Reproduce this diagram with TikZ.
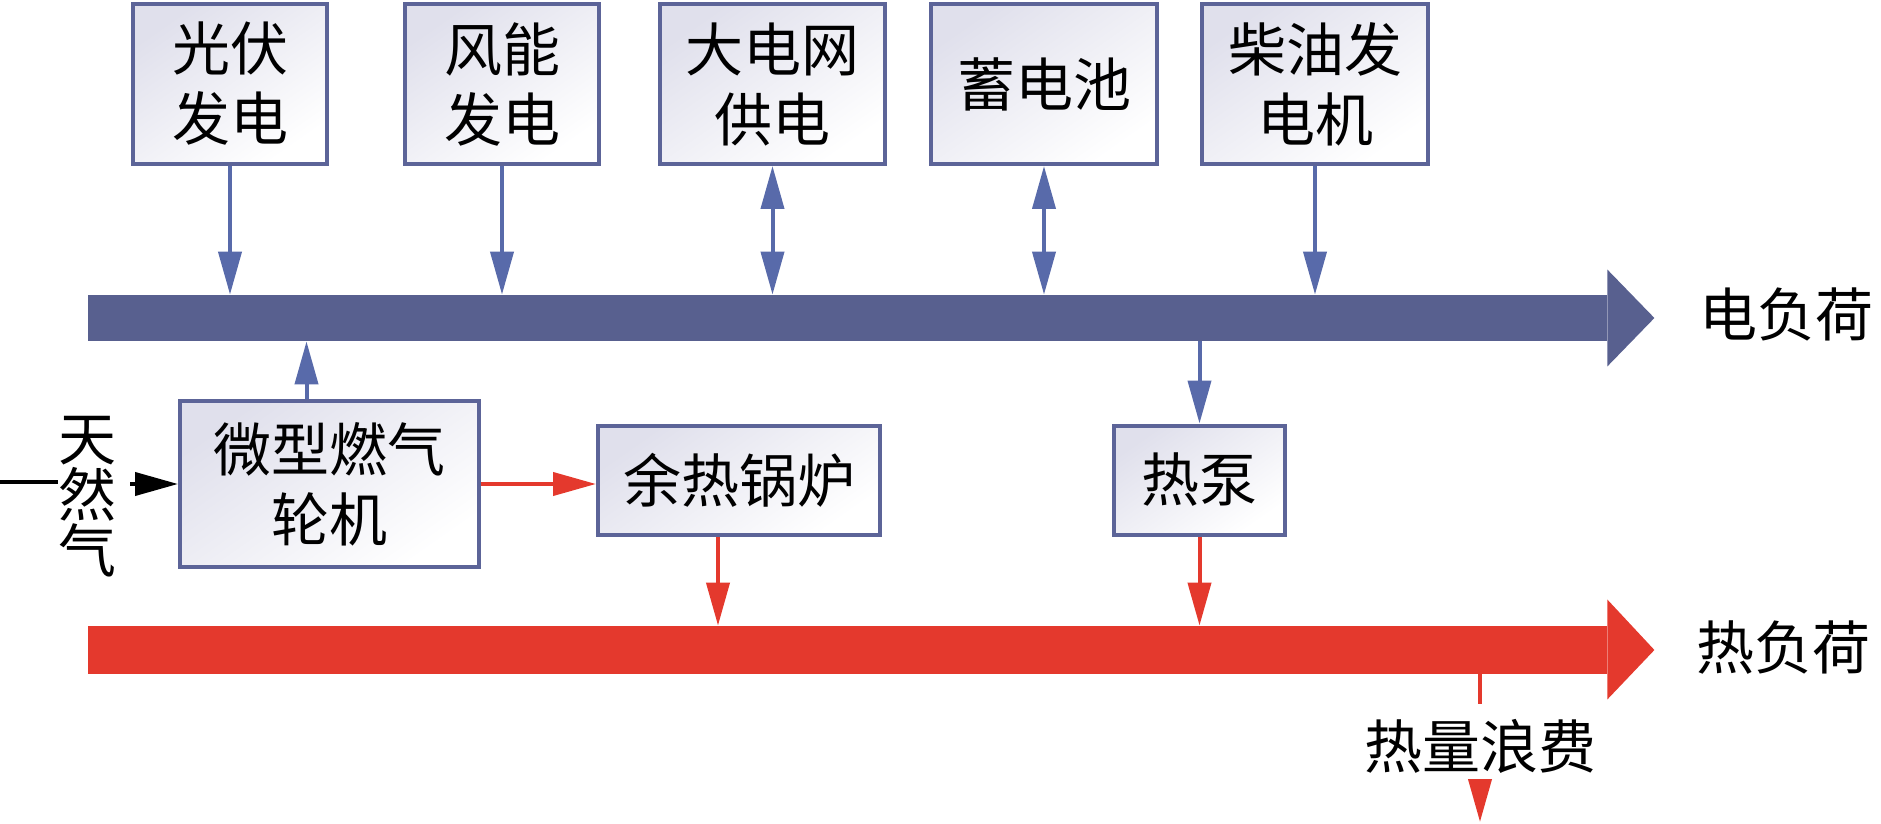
\documentclass[tikz,border=0pt]{standalone}
\usepackage{xcolor}
\usepackage{fontspec}
\usepackage{tikz}
\usetikzlibrary{arrows.meta, positioning}
\newfontfamily\cjk{Noto Sans CJK SC}
\definecolor{busblue}{RGB}{88, 96, 143}
\definecolor{lineblue}{RGB}{88, 106, 170}
\definecolor{boxblue}{RGB}{92, 100, 152}
\definecolor{heatred}{RGB}{228, 57, 45}
\definecolor{boxshade}{RGB}{224, 224, 236}

\begin{document}
\begin{tikzpicture}[
    x=0.5pt, y=-0.5pt,
    unit/.style={rectangle, draw=boxblue, line width=2pt,
                 top color=boxshade, bottom color=white, shading angle=35,
                 font=\cjk\fontsize{29}{35}\selectfont, align=center,
                 inner sep=0pt},
    loadtext/.style={font=\cjk\fontsize{29}{35}\selectfont, inner sep=0pt},
    bar/.style={rectangle, inner sep=0pt, minimum width=759.5pt},
    elink/.style={-{Triangle[length=21.5pt, width=11.5pt]}, lineblue, line width=2pt},
    hlink/.style={-{Triangle[length=21.5pt, width=11.5pt]}, heatred, line width=2pt}
]
    \useasboundingbox (0,0) rectangle (1881,824);

    % sources on top
    \node[unit, minimum width=97pt, minimum height=80pt] (pv) at (230,84) {光伏\\发电};
    \node[unit, minimum width=97pt, minimum height=80pt] (wind) at (502,84) {风能\\发电};
    \node[unit, minimum width=112.5pt, minimum height=80pt] (grid) at (772.5,84) {大电网\\供电};
    \node[unit, minimum width=113pt, minimum height=80pt] (battery) at (1044,84) {蓄电池};
    \node[unit, minimum width=113pt, minimum height=80pt] (diesel) at (1315,84) {柴油发\\电机};

    % busbars
    \node[bar, fill=busblue, minimum height=23pt] (elecbus) at (847.5,318) {};
    \fill[busblue] ([yshift=12.5pt]elecbus.north east) -- ([xshift=23.5pt]elecbus.east)
        -- ([yshift=-12.5pt]elecbus.south east) -- cycle;
    \node[bar, fill=heatred, minimum height=24pt] (heatbus) at (847.5,650) {};
    \fill[heatred] ([yshift=13pt]heatbus.north east) -- ([xshift=23.5pt]heatbus.east)
        -- ([yshift=-12.5pt]heatbus.south east) -- cycle;
    \node[loadtext, anchor=west] (eload) at (1699,314) {电负荷};
    \node[loadtext, anchor=west] (hload) at (1696,648) {热负荷};

    % converters
    \node[unit, minimum width=149.5pt, minimum height=83pt] (mgt) at (329.5,484) {微型燃气\\轮机};
    \node[unit, minimum width=141pt, minimum height=54.5pt] (boiler) at (739,480) {余热锅炉};
    \node[unit, minimum width=85.5pt, minimum height=54.5pt] (hp) at (1199.5,480) {热泵};
    \node[loadtext, text width=29pt, align=center, font=\cjk\fontsize{29}{28}\selectfont]
        (gas) at (87,497) {天\\然\\气};
    \node[loadtext, fill=white, inner ysep=7pt] (waste) at (1480,746) {热量浪费};
    \coordinate (gasin) at (0,482);
    \coordinate (wasteout) at (1480,822);
    \coordinate (mgtout) at ([xshift=-11.5pt]mgt.north);
    \coordinate (blrout) at ([xshift=-10.5pt]boiler.south);

    \draw[elink] (pv) -- (pv |- elecbus.north);
    \draw[elink] (wind) -- (wind |- elecbus.north);
    \draw[elink, {Triangle[length=21.5pt, width=11.5pt]}-{Triangle[length=21.5pt, width=11.5pt]}]
        (grid) -- (grid |- elecbus.north);
    \draw[elink, {Triangle[length=21.5pt, width=11.5pt]}-{Triangle[length=21.5pt, width=11.5pt]}]
        (battery) -- (battery |- elecbus.north);
    \draw[elink] (diesel) -- (diesel |- elecbus.north);
    \draw[elink] (mgtout) -- (mgtout |- elecbus.south);
    \draw[elink] (hp |- elecbus.south) -- (hp);

    \draw[black, line width=2pt] (gasin) -- (gasin -| gas.west);
    \draw[-{Triangle[length=21.5pt, width=11.5pt]}, black, line width=2pt, shorten <=7pt]
        (gas.east |- mgt.west) -- (mgt.west);
    \draw[hlink] (mgt.east) -- (mgt.east -| boiler.west);
    \draw[hlink] (blrout) -- (blrout |- heatbus.north);
    \draw[hlink] (hp) -- (hp |- heatbus.north);
    \draw[heatred, line width=2pt] (waste.north |- heatbus.south) -- (waste.north);
    \draw[hlink] (waste.south) -- (wasteout);
\end{tikzpicture}
\end{document}
